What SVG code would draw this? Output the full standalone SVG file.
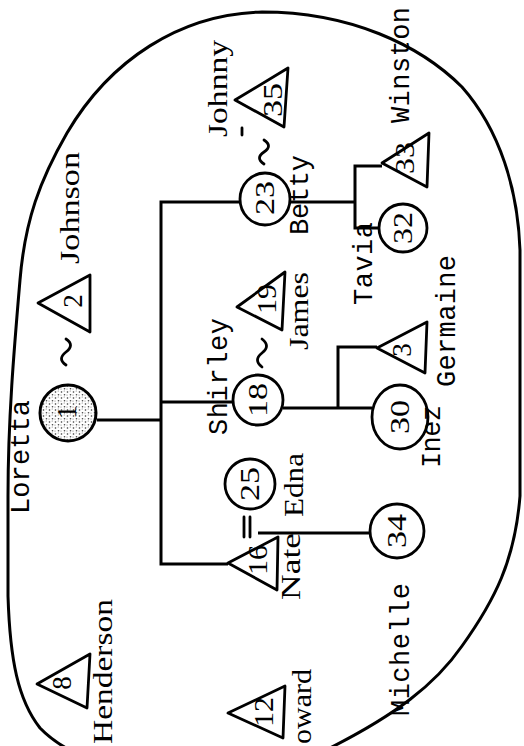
<svg xmlns="http://www.w3.org/2000/svg" width="524" height="746" viewBox="0 0 524 746">
<defs>
<pattern id="stip" width="6" height="6" patternUnits="userSpaceOnUse">
<rect width="6" height="6" fill="#fff"/>
<circle cx="1.5" cy="2" r="0.8" fill="#333"/>
<circle cx="4.5" cy="4.8" r="0.8" fill="#444"/>
<circle cx="4.2" cy="1" r="0.5" fill="#666"/>
<circle cx="1" cy="5" r="0.5" fill="#666"/>
</pattern>
</defs>
<style>
.bd{fill:none;stroke:#000;stroke-width:3;stroke-linejoin:round;stroke-linecap:round}
.ln{fill:none;stroke:#000;stroke-width:3;stroke-linejoin:miter}
.nd{fill:#fff;stroke:#000;stroke-width:2.8;stroke-linejoin:round}
.mk{fill:none;stroke:#000;stroke-width:2.8;stroke-linecap:round}
.num{font-family:"Liberation Serif","DejaVu Serif",serif;font-size:27px;fill:#000;text-anchor:middle}
.sf{font-family:"Liberation Serif","DejaVu Serif",serif;font-size:27px;fill:#000}
.mo{font-family:"Liberation Mono","DejaVu Sans Mono",monospace;font-size:27px;fill:#000}
</style>
<rect width="524" height="746" fill="#fff"/>
<path class="bd" d="M 8 496 C 8 420 14 350 20 280 C 25 220 40 180 67 133 C 110 60 180 14 262 12 C 350 12 420 45 462 87 C 500 130 518 190 520 250 L 520 496 C 515 560 495 600 462 646 C 435 685 395 715 330 748 C 260 790 100 790 40 728 C 18 700 10 660 8 596 Z"/>

<g id="connectors">
<path class="ln" d="M 97 420 H 161"/>
<path class="ln" d="M 240 202 H 161 V 564 H 228"/>
<path class="ln" d="M 161 402 H 233"/>
<path class="ln" d="M 290 202 H 355"/>
<path class="ln" d="M 382 166 H 355 V 228 H 380"/>
<path class="ln" d="M 283 408 H 372"/>
<path class="ln" d="M 338 408 V 347 H 377"/>
<path class="ln" d="M 258 533 H 370"/>
<path class="mk" d="M 66 365 q -9 -6 0 -13 q 9 -7 0 -13"/>
<path class="mk" d="M 262 367 q -9 -7 0 -14 q 9 -7 0 -14"/>
<path class="mk" d="M 264 164 q -9 -6 0 -12 q 9 -6 0 -12"/>
<path class="mk" d="M 244 517 V 537 M 250 517 V 537"/>
<path class="mk" d="M 242 128 V 135" stroke-width="2"/>
</g>

<g id="n1">
<circle cx="68" cy="413" r="28" fill="url(#stip)" stroke="#000" stroke-width="3"/>
<text class="num" transform="translate(67,412) rotate(-90)" dy="0.35em">1</text>
<text class="mo" transform="translate(29,514) rotate(-90)" textLength="114">Loretta</text>
</g>
<g id="n2">
<polygon class="nd" points="38,303 90,275 90,332"/>
<text class="num" transform="translate(73,301) rotate(-90)" dy="0.35em">2</text>
<text class="sf" transform="translate(79,264) rotate(-90)" textLength="112" lengthAdjust="spacingAndGlyphs">Johnson</text>
</g>
<g id="n35">
<polygon class="nd" points="235,100 288,68 284,127"/>
<text class="num" transform="translate(273,100) rotate(-90)" dy="0.35em" textLength="34" lengthAdjust="spacingAndGlyphs">35</text>
<text class="sf" transform="translate(227,137) rotate(-90)" textLength="97" lengthAdjust="spacingAndGlyphs">Johnny</text>
</g>
<g id="n33">
<polygon class="nd" points="382,163 429,133 427,187"/>
<text class="num" transform="translate(405,158) rotate(-90)" dy="0.35em" textLength="32" lengthAdjust="spacingAndGlyphs">33</text>
<text class="mo" transform="translate(409,123) rotate(-90)" textLength="116">Winston</text>
</g>
<g id="n23">
<ellipse class="nd" cx="265" cy="199" rx="25" ry="26"/>
<text class="num" transform="translate(265,198) rotate(-90)" dy="0.35em" textLength="34" lengthAdjust="spacingAndGlyphs">23</text>
<text class="mo" transform="translate(308,235) rotate(-90)" textLength="80">Betty</text>
</g>
<g id="n32">
<circle class="nd" cx="403" cy="228" r="24"/>
<text class="num" transform="translate(403,228) rotate(-90)" dy="0.35em" textLength="32" lengthAdjust="spacingAndGlyphs">32</text>
<text class="mo" transform="translate(372,305) rotate(-90)" textLength="83">Tavia</text>
</g>
<g id="n19">
<polygon class="nd" points="237,307 285,272 282,330"/>
<text class="num" transform="translate(267,299) rotate(-90)" dy="0.35em" textLength="30" lengthAdjust="spacingAndGlyphs">19</text>
<text class="sf" transform="translate(308,350) rotate(-90)" textLength="78" lengthAdjust="spacingAndGlyphs">James</text>
</g>
<g id="n18">
<circle class="nd" cx="258" cy="400" r="25"/>
<text class="num" transform="translate(258,400) rotate(-90)" dy="0.35em" textLength="34" lengthAdjust="spacingAndGlyphs">18</text>
<text class="mo" transform="translate(227,435) rotate(-90)" textLength="117">Shirley</text>
</g>
<g id="n3">
<polygon class="nd" points="377,348 427,322 425,373"/>
<text class="num" transform="translate(402,350) rotate(-90)" dy="0.35em">3</text>
<text class="mo" transform="translate(455,387) rotate(-90)" textLength="132">Germaine</text>
</g>
<g id="n30">
<ellipse class="nd" cx="400" cy="417" rx="28" ry="32"/>
<text class="num" transform="translate(400,417) rotate(-90)" dy="0.35em" textLength="34" lengthAdjust="spacingAndGlyphs">30</text>
<text class="mo" transform="translate(440,468) rotate(-90)" textLength="63">Inez</text>
</g>
<g id="n25">
<circle class="nd" cx="250" cy="484" r="25"/>
<text class="num" transform="translate(250,484) rotate(-90)" dy="0.35em" textLength="34" lengthAdjust="spacingAndGlyphs">25</text>
<text class="sf" transform="translate(303,517) rotate(-90)" textLength="64" lengthAdjust="spacingAndGlyphs">Edna</text>
</g>
<g id="n16">
<polygon class="nd" points="228,563 278,537 277,590"/>
<text class="num" transform="translate(258,560) rotate(-90)" dy="0.35em" textLength="30" lengthAdjust="spacingAndGlyphs">16</text>
<text class="sf" transform="translate(300,600) rotate(-90)" textLength="67" lengthAdjust="spacingAndGlyphs">Nate</text>
</g>
<g id="n34">
<circle class="nd" cx="397" cy="531" r="27"/>
<text class="num" transform="translate(397,531) rotate(-90)" dy="0.35em" textLength="34" lengthAdjust="spacingAndGlyphs">34</text>
<text class="mo" transform="translate(409,716) rotate(-90)" textLength="133">Michelle</text>
</g>
<g id="n8">
<polygon class="nd" points="37,684 90,654 87,708"/>
<text class="num" transform="translate(62,683) rotate(-90)" dy="0.35em">8</text>
<text class="sf" transform="translate(112,744) rotate(-90)" textLength="145" lengthAdjust="spacingAndGlyphs">Henderson</text>
</g>
<g id="n12">
<polygon class="nd" points="228,713 285,686 283,738"/>
<text class="num" transform="translate(264,712) rotate(-90)" dy="0.35em" textLength="30" lengthAdjust="spacingAndGlyphs">12</text>
<text class="sf" transform="translate(311,744) rotate(-90)" textLength="75" lengthAdjust="spacingAndGlyphs">oward</text>
</g>
</svg>
